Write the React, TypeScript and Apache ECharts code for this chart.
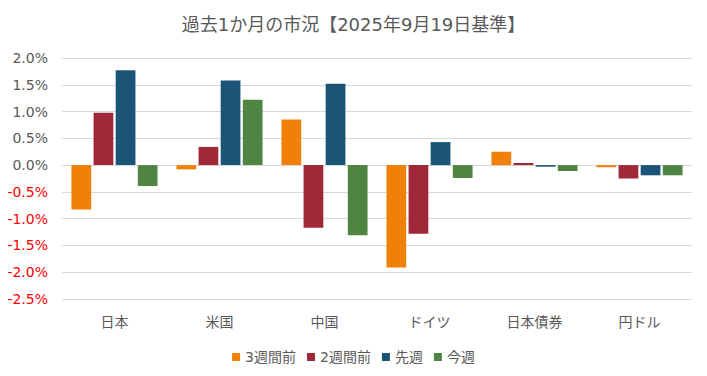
import React, { useEffect, useRef } from "react";
import * as echarts from "echarts";

const categories = ["日本", "米国", "中国", "ドイツ", "日本債券", "円ドル"];
const seriesNames = ["3週間前", "2週間前", "先週", "今週"];
const weeks3Ago = [-0.83, -0.08, 0.85, -1.91, 0.25, -0.04];
const weeks2Ago = [0.98, 0.34, -1.17, -1.28, 0.04, -0.25];
const lastWeek = [1.77, 1.58, 1.52, 0.43, -0.03, -0.19];
const thisWeek = [-0.39, 1.22, -1.31, -0.24, -0.11, -0.19];
const colors = ["#F08008", "#A12838", "#1A5577", "#4E8542"];
const title = "過去1か月の市況【2025年9月19日基準】";

export default function App() {
  const ref = useRef<HTMLDivElement>(null);
  useEffect(() => {
    if (!ref.current) return;
    const chart = echarts.init(ref.current, undefined, { renderer: "svg" });
    const font = "'DejaVu Sans', 'Noto Sans CJK JP', sans-serif";
    const data = [weeks3Ago, weeks2Ago, lastWeek, thisWeek];
    chart.setOption({
      animation: false,
      backgroundColor: "#ffffff",
      textStyle: { fontFamily: font },
      title: {
        text: title,
        left: "center",
        top: 10,
        textStyle: { fontSize: 18, fontWeight: "normal", color: "#595959", fontFamily: font },
      },
      legend: {
        data: seriesNames,
        top: 345,
        left: "center",
        itemWidth: 8,
        itemHeight: 8,
        itemGap: 11,
        icon: "rect",
        textStyle: { fontSize: 14, color: "#595959", fontFamily: font },
      },
      grid: { left: 62, right: 15, top: 58, bottom: 77, containLabel: false },
      xAxis: {
        type: "category",
        data: categories,
        position: "bottom",
        axisLine: { show: false, onZero: false },
        axisTick: { show: false },
        axisLabel: { fontSize: 14, color: "#595959", margin: 16, fontFamily: font },
      },
      yAxis: {
        type: "value",
        min: -2.5,
        max: 2.0,
        interval: 0.5,
        axisLine: { show: false },
        axisTick: { show: false },
        splitLine: { lineStyle: { color: "#D9D9D9", width: 1 } },
        axisLabel: {
          fontSize: 14,
          margin: 14,
          fontFamily: font,
          formatter: (v: number) => v.toFixed(1) + "%",
          color: (v: any) => (Number(v) < 0 ? "#FF0000" : "#595959"),
        },
      },
      series: seriesNames.map((name, i) => ({
        name,
        type: "bar",
        data: data[i],
        barGap: "12%",
        barCategoryGap: "18%",
        itemStyle: { color: colors[i] },
      })),
    });
    return () => chart.dispose();
  }, []);
  return (
    <div
      ref={ref}
      style={{ position: "fixed", left: 0, top: 0, width: 707, height: 376, background: "#fff" }}
    />
  );
}
